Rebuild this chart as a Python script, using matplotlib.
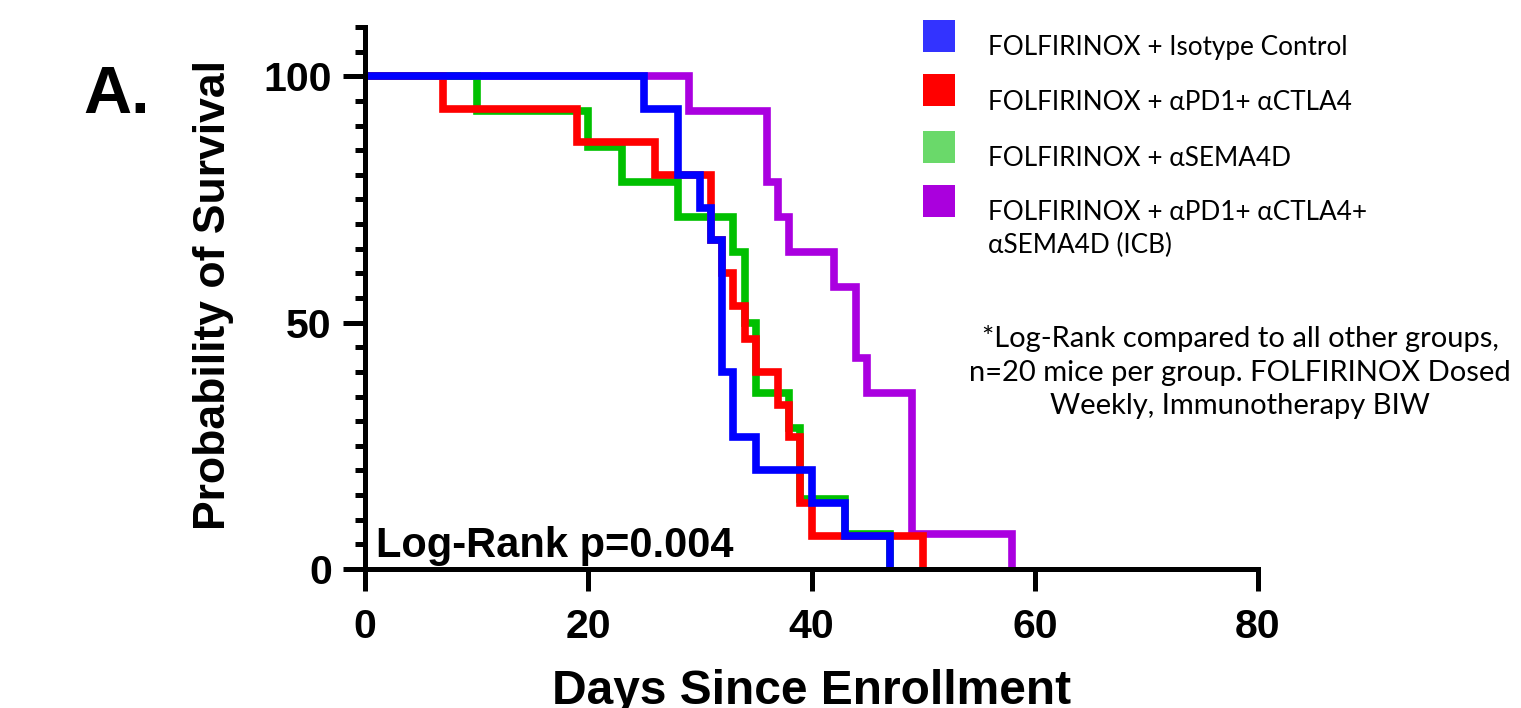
import matplotlib
matplotlib.use("Agg")
import matplotlib.pyplot as plt
from matplotlib.patches import Rectangle
from matplotlib.ticker import MultipleLocator

# Kaplan-Meier step data (day of event, survival % after event)
blue_days = [0, 25, 28, 30, 31, 32, 33, 35, 40, 43, 47]
blue_surv = [100, 93.3, 80, 73.3, 66.7, 40, 26.7, 20, 13.3, 6.7, 0]

red_days = [0, 7, 19, 26, 31, 32, 33, 34, 35, 37, 38, 39, 40, 50]
red_surv = [100, 93.3, 86.7, 80, 66.7, 60, 53.3, 46.7, 40, 33.3, 26.7, 13.3, 6.7, 0]

green_days = [0, 10, 20, 23, 28, 33, 34, 35, 38, 39, 43, 47]
green_surv = [100, 92.86, 85.71, 78.57, 71.43, 64.29, 50, 35.71, 28.57, 14.29, 7.14, 0]

purple_days = [0, 29, 36, 37, 38, 42, 44, 45, 49, 58]
purple_surv = [100, 92.86, 78.57, 71.43, 64.29, 57.14, 42.86, 35.71, 7.14, 0]

labels = [
    "FOLFIRINOX + Isotype Control",
    "FOLFIRINOX + \u03b1PD1+ \u03b1CTLA4",
    "FOLFIRINOX + \u03b1SEMA4D",
    "FOLFIRINOX + \u03b1PD1+ \u03b1CTLA4+\n\u03b1SEMA4D (ICB)",
]
line_colors = ["#0000ff", "#ff0000", "#00c000", "#aa00e0"]
legend_colors = ["#3333ff", "#ff0000", "#6ad96a", "#aa00dd"]

x_ticks = [0, 20, 40, 60, 80]
y_ticks = [0, 50, 100]

note = ("*Log-Rank compared to all other groups,\n"
        "n=20 mice per group. FOLFIRINOX Dosed\n"
        "Weekly, Immunotherapy BIW")

BOLD = dict(family="Liberation Sans", weight="bold")
SOFT = dict(family="Lato")

W, H = 1521, 708
fig = plt.figure(figsize=(W / 100, H / 100), dpi=100)
ax = fig.add_axes([365 / W, 1 - 569 / H, (1258 - 365) / W, (569 - 27) / H])

series = [
    (purple_days, purple_surv, line_colors[3], 2.0),
    (green_days, green_surv, line_colors[2], 2.1),
    (red_days, red_surv, line_colors[1], 2.2),
    (blue_days, blue_surv, line_colors[0], 2.3),
]
for days, surv, color, z in series:
    ax.step(days, surv, where="post", color=color, linewidth=5.5,
            solid_joinstyle="miter", solid_capstyle="butt",
            clip_on=False, zorder=z)

ax.set_xlim(0, 80)
ax.set_ylim(0, 110)
ax.set_xticks(x_ticks)
ax.set_yticks(y_ticks)
ax.yaxis.set_minor_locator(MultipleLocator(5))

for side in ["top", "right"]:
    ax.spines[side].set_visible(False)
for side in ["left", "bottom"]:
    ax.spines[side].set_linewidth(3.6)
    ax.spines[side].set_zorder(3)

ax.tick_params(axis="both", which="major", width=3.6, length=16, direction="out")
ax.tick_params(axis="y", which="minor", width=3.6, length=7.5, direction="out")
ax.tick_params(axis="x", pad=12)
ax.tick_params(axis="y", pad=8)
for lab in ax.get_xticklabels() + ax.get_yticklabels():
    lab.set_fontproperties(dict(BOLD, size=29.5))

fig.text(213 / W, 1 - 295 / H, "Probability of Survival", rotation=90,
         ha="center", va="center", fontsize=32, **BOLD)
fig.text(812 / W, 1 - 704 / H, "Days Since Enrollment",
         ha="center", va="baseline", fontsize=34.5, **BOLD)
fig.text(83 / W, 1 - 113 / H, "A.", ha="left", va="baseline",
         fontsize=48, **BOLD)
ax.text(1.0, 2.4, "Log-Rank p=0.004", ha="left", va="baseline",
        fontsize=30, **BOLD)

# legend drawn by hand so the two-line entry lines up with its first row
sq_centers = [36, 90, 147, 201]
text_base = [55, 110, 166, 220]
for color, label, yc, yb in zip(legend_colors, labels, sq_centers, text_base):
    fig.add_artist(Rectangle(((939 - 16) / W, 1 - (yc + 16) / H), 32 / W, 32 / H,
                             transform=fig.transFigure, color=color, lw=0))
    for i, line in enumerate(label.split("\n")):
        fig.text(988 / W, 1 - (yb + 33 * i) / H, line, ha="left",
                 va="baseline", fontsize=18.8, **SOFT)

fig.text(1240 / W, 1 - 372 / H, note, ha="center", va="center",
         multialignment="center", linespacing=1.38, fontsize=21, **SOFT)

fig.savefig("out.png", dpi=100)
